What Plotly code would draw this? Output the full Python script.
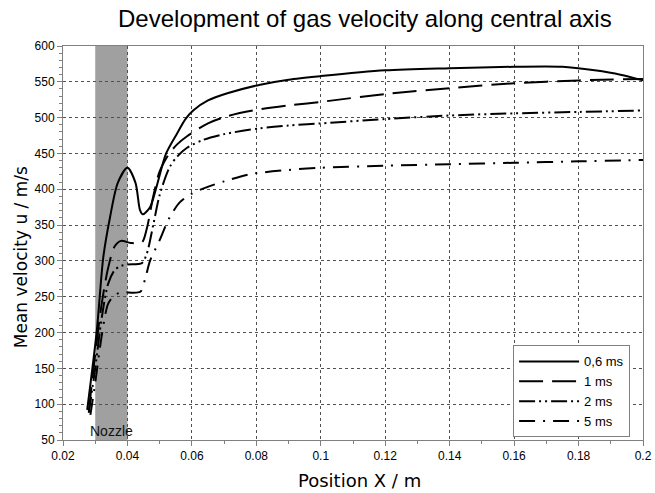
import plotly.graph_objects as go

# --- data ---
x_06 = [0.0275, 0.0305, 0.0325, 0.0346, 0.037, 0.040, 0.0425, 0.0439, 0.0448, 0.047, 0.049, 0.052, 0.0554,
        0.058, 0.0604, 0.065, 0.071, 0.0812, 0.09, 0.1, 0.12, 0.14, 0.16, 0.175, 0.185, 0.193, 0.2]
y_06 = [92, 203, 305, 361, 409, 430, 409, 371, 365, 375, 403, 450, 478,
        498, 510, 524, 534, 546, 553, 558, 566, 569, 571, 571, 566, 560, 552]

x_1 = [0.028, 0.030, 0.032, 0.034, 0.036, 0.038, 0.041, 0.0445, 0.046, 0.048, 0.050, 0.053, 0.0555,
       0.0585, 0.065, 0.071, 0.079, 0.09, 0.1, 0.12, 0.14, 0.16, 0.18, 0.2]
y_1 = [90, 170, 240, 290, 320, 328, 325, 326, 345, 390, 425, 450, 463,
       474, 492, 502, 510, 517, 522, 533, 541, 548, 552, 554]

x_2 = [0.028, 0.030, 0.032, 0.034, 0.036, 0.038, 0.040, 0.0445, 0.046, 0.048, 0.050, 0.053, 0.0555,
       0.0585, 0.0635, 0.07, 0.081, 0.09, 0.1, 0.12, 0.14, 0.16, 0.18, 0.2]
y_2 = [88, 150, 220, 268, 287, 293, 295, 297, 310, 350, 392, 430, 446,
       458, 469, 477, 485, 489, 492, 498, 503, 506, 508, 510]

x_5 = [0.0285, 0.030, 0.032, 0.034, 0.036, 0.038, 0.044, 0.0455, 0.047, 0.050, 0.053, 0.0563, 0.06, 0.0647,
       0.07, 0.078, 0.09, 0.1, 0.12, 0.14, 0.16, 0.18, 0.2]
y_5 = [85, 130, 195, 240, 252, 256, 257, 275, 300, 329, 360, 382, 394, 403,
       411, 421, 427, 430, 433, 435, 437, 439, 441]

series_names = ["0,6 ms", "1 ms", "2 ms", "5 ms"]
nozzle = [0.03, 0.04]

fig = go.Figure()
styles = ["solid", "24px,9px", "16px,4px,2px,4px,2px,4px", "16px,8px,2px,8px"]
for name, xs, ys, d in zip(series_names, [x_06, x_1, x_2, x_5], [y_06, y_1, y_2, y_5], styles):
    fig.add_trace(go.Scatter(x=xs, y=ys, mode="lines", name=name,
                             line=dict(color="black", width=2, dash=d, shape="spline", smoothing=0.8)))

fig.add_shape(type="rect", xref="x", yref="paper", x0=nozzle[0], x1=nozzle[1], y0=0, y1=1,
              fillcolor="#a0a0a0", line_width=0, layer="between")
fig.add_annotation(x=(nozzle[0] + nozzle[1]) / 2, y=62, xref="x", yref="y", text="Nozzle",
                   showarrow=False, font=dict(size=14, color="#111", family="Liberation Sans, Arial"))

# axis titles as annotations (positioned like the reference)
fig.add_annotation(x=0.512, y=0, xref="paper", yref="paper", yshift=-40, text="Position X / m",
                   showarrow=False, yanchor="middle",
                   font=dict(size=18, color="black", family="DejaVu Sans"))
fig.add_annotation(x=0, y=0.464, xref="paper", yref="paper", xshift=-42, text="Mean velocity u / m/s",
                   showarrow=False, textangle=-90, xanchor="center",
                   font=dict(size=17, color="black", family="DejaVu Sans"))

axis_common = dict(showline=True, linecolor="#808080", linewidth=1, mirror=True,
                   showgrid=True, gridcolor="#505050", griddash="3px,3px", gridwidth=1,
                   ticks="outside", ticklen=5, tickcolor="#808080", zeroline=False,
                   automargin=False,
                   tickfont=dict(size=12, color="black", family="Liberation Sans, Arial"))

fig.update_xaxes(range=[0.02, 0.2], dtick=0.02, tick0=0.02,
                 minor=dict(dtick=0.01, ticks="outside", ticklen=3, tickcolor="#808080", showgrid=False),
                 **axis_common)
fig.update_yaxes(range=[50, 600], dtick=50, tick0=50,
                 minor=dict(dtick=10, ticks="outside", ticklen=3, tickcolor="#808080", showgrid=False),
                 **axis_common)

fig.update_layout(
    width=655, height=493,
    margin=dict(l=63, r=12, t=46, b=53),
    paper_bgcolor="white", plot_bgcolor="white",
    title=dict(text="Development of gas velocity along central axis", x=0.557, xanchor="center",
               y=0.962, yanchor="middle",
               font=dict(size=24, color="black", family="Liberation Sans, Arial")),
    legend=dict(x=0.776, y=0.24, xanchor="left", yanchor="top", bgcolor="white",
                bordercolor="#808080", borderwidth=1,
                font=dict(size=13, color="black", family="Liberation Sans, Arial"),
                tracegroupgap=0, itemwidth=60),
    showlegend=True,
)

fig.write_html("out.html")
